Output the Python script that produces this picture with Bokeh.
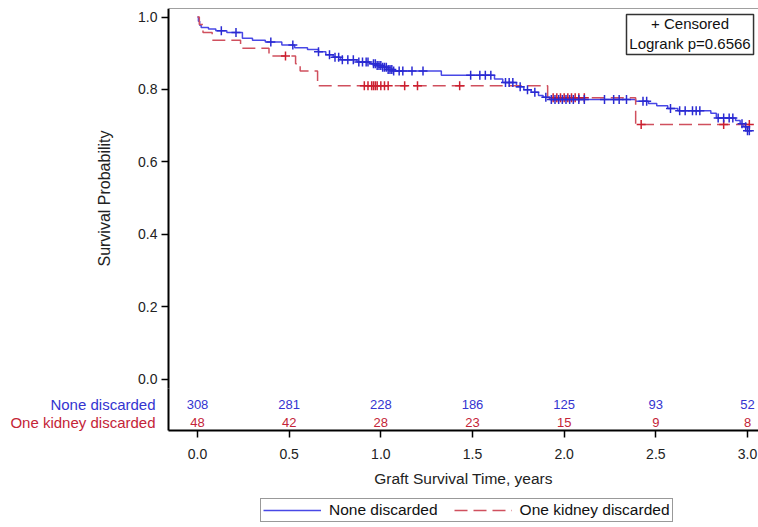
from bokeh.plotting import figure
from bokeh.models import Range1d, FixedTicker, Legend, LegendItem, Label, BoxAnnotation, LinearAxis
from bokeh.core.properties import value
from bokeh.embed import file_html
from bokeh.resources import INLINE
import numpy as np

# ---------------- data ----------------
# Kaplan-Meier step points: None discarded
none_t = [0.0, 0.005, 0.012, 0.02, 0.06, 0.10, 0.16, 0.245, 0.30, 0.37, 0.46, 0.53,
          0.60, 0.66, 0.70, 0.74, 0.78, 0.87, 0.94, 0.98, 1.01, 1.04, 1.065, 1.33,
          1.62, 1.665, 1.74, 1.78, 1.82, 1.86, 1.885, 1.92, 2.39, 2.46, 2.505, 2.565,
          2.62, 2.80, 2.83, 2.935, 2.96, 2.98, 3.0]
none_s = [1.0, 0.988, 0.977, 0.971, 0.967, 0.962, 0.957, 0.941, 0.936, 0.931, 0.923, 0.915,
          0.910, 0.904, 0.896, 0.889, 0.882, 0.876, 0.871, 0.866, 0.861, 0.855, 0.851, 0.839,
          0.829, 0.819, 0.807, 0.799, 0.792, 0.783, 0.778, 0.772, 0.767, 0.761, 0.755, 0.747,
          0.741, 0.734, 0.721, 0.714, 0.705, 0.697, 0.686]
none_cens = [0.13, 0.21, 0.40, 0.52, 0.66, 0.72, 0.75, 0.77, 0.79, 0.82, 0.85, 0.88, 0.90,
             0.92, 0.93, 0.96, 0.97, 0.98, 0.99, 1.00, 1.01, 1.02, 1.03, 1.04, 1.05, 1.06,
             1.07, 1.10, 1.12, 1.17, 1.23, 1.49, 1.54, 1.57, 1.60, 1.68, 1.70, 1.72, 1.76,
             1.80, 1.84, 1.90, 1.93, 1.95, 1.97, 1.99, 2.01, 2.03, 2.05, 2.08, 2.11, 2.22,
             2.27, 2.30, 2.34, 2.43, 2.45, 2.58, 2.63, 2.66, 2.70, 2.72, 2.74, 2.84, 2.87,
             2.90, 2.92, 2.97, 2.99, 3.00, 3.01]

# Kaplan-Meier step points: One kidney discarded
one_t = [0.0, 0.01, 0.03, 0.08, 0.235, 0.39, 0.535, 0.56, 0.655, 1.91, 2.39]
one_s = [1.0, 0.979, 0.957, 0.936, 0.914, 0.892, 0.871, 0.851, 0.810, 0.777, 0.703]
one_cens = [0.48, 0.91, 0.93, 0.95, 0.96, 0.97, 0.98, 1.00, 1.02, 1.04, 1.13, 1.20, 1.43,
            1.94, 1.96, 1.98, 2.00, 2.02, 2.04, 2.06, 2.08, 2.11, 2.42, 2.87, 3.01]

# Numbers at risk
risk_times = [0.0, 0.5, 1.0, 1.5, 2.0, 2.5, 3.0]
none_risk = [308, 281, 228, 186, 125, 93, 52]
one_risk = [48, 42, 28, 23, 15, 9, 8]

x_ticks = [0.0, 0.5, 1.0, 1.5, 2.0, 2.5, 3.0]
x_tick_labels = ["0.0", "0.5", "1.0", "1.5", "2.0", "2.5", "3.0"]
y_ticks = [0.0, 0.2, 0.4, 0.6, 0.8, 1.0]
y_tick_labels = ["0.0", "0.2", "0.4", "0.6", "0.8", "1.0"]

group_names = ["None discarded", "One kidney discarded"]
censor_text = "+ Censored"
logrank_text = "Logrank p=0.6566"

# ---------------- layout / style ----------------
FONT = "Liberation Sans"
BLUE_LINE = "#4848e6"
BLUE_MARK = "#2a2ad2"
BLUE_TEXT = "#3434d0"
RED_LINE = "#d0505e"
RED_MARK = "#cc1f2f"
RED_TEXT = "#c42438"

X_LO, X_HI = -1.0745, 3.060      # frame spans the whole canvas width
AX_X = -0.1582                   # data x where the y axis sits
Y_LO, Y_HI = -0.4102, 1.0235     # frame spans down to the canvas bottom
AX_Y = -0.1423                   # data y where the x axis sits
Y_SPLIT = -0.026                 # lower end of the titled part of the y axis
ROW1, ROW2 = -0.0704, -0.1202    # at-risk rows
NAME_X = -0.2291                 # right edge of row names


def step_lookup(ts, ss, q):
    idx = np.searchsorted(np.array(ts), np.array(q), side="right") - 1
    return [ss[i] for i in idx]


p = figure(width=758, height=527, output_backend="svg", toolbar_location=None,
           x_range=Range1d(X_LO, X_HI), y_range=Range1d(Y_LO, Y_HI),
           min_border_left=0, min_border_right=0, min_border_top=8, min_border_bottom=0)
p.grid.visible = False
p.outline_line_color = None
p.border_fill_color = "white"

p.yaxis.fixed_location = AX_X
p.yaxis.bounds = (Y_SPLIT, Y_HI)
p.xaxis.fixed_location = AX_Y
p.xaxis.bounds = (AX_X, X_HI)
p.xaxis.ticker = FixedTicker(ticks=x_ticks)
p.xaxis.major_label_overrides = {t: l for t, l in zip(x_ticks, x_tick_labels)}
p.yaxis.ticker = FixedTicker(ticks=y_ticks)
p.yaxis.major_label_overrides = {t: l for t, l in zip(y_ticks, y_tick_labels)}
p.xaxis.axis_label = "Graft Survival Time, years"
p.yaxis.axis_label = "Survival Probability"
for ax in (p.xaxis, p.yaxis):
    ax.axis_line_width = 2
    ax.axis_line_color = "black"
    ax.major_tick_line_width = 1.5
    ax.major_tick_line_color = "black"
    ax.major_tick_out = 7
    ax.major_tick_in = 0
    ax.minor_tick_out = 0
    ax.minor_tick_in = 0
    ax.major_label_text_font = FONT
    ax.major_label_text_font_size = "14px"
    ax.major_label_text_color = "#222222"
    ax.axis_label_text_font = FONT
    ax.axis_label_text_font_style = "normal"
    ax.axis_label_text_color = "#222222"
p.xaxis.axis_label_text_font_size = "15.5px"
p.yaxis.axis_label_text_font_size = "16px"
p.xaxis.major_label_standoff = 11
p.xaxis.axis_label_standoff = 8
p.yaxis.major_label_standoff = 4
p.yaxis.axis_label_standoff = 22

# lower stretch of the y axis line (through the at-risk rows), no ticks
low_axis = LinearAxis(fixed_location=AX_X, bounds=(AX_Y, Y_SPLIT),
                      ticker=FixedTicker(ticks=[-0.1]), major_label_overrides={-0.1: ""},
                      axis_line_color="black", axis_line_width=2,
                      major_tick_line_color=None, major_tick_out=0, major_tick_in=0,
                      minor_tick_out=0, minor_tick_in=0,
                      major_label_text_font_size="2px", major_label_text_alpha=0.0)
p.add_layout(low_axis, "left")

# thin top border of the plot area
top_axis = LinearAxis(ticker=FixedTicker(ticks=[1.0]), bounds=(AX_X, X_HI),
                      axis_line_color="#a0a0a0", axis_line_width=1,
                      major_tick_line_color=None, major_tick_out=0, major_tick_in=0,
                      minor_tick_out=0, minor_tick_in=0, major_label_standoff=0,
                      major_label_text_font_size="2px", major_label_text_alpha=0.0)
p.add_layout(top_axis, "above")

# curves
b_line = p.step(x=none_t + [none_cens[-1]], y=none_s + [none_s[-1]], mode="after",
                line_color=BLUE_LINE, line_width=1.5)
r_line = p.step(x=one_t + [one_cens[-1]], y=one_s + [one_s[-1]], mode="after",
                line_color=RED_LINE, line_width=1.5, line_dash="13 6")
p.scatter(x=one_cens, y=step_lookup(one_t, one_s, one_cens), marker="cross", size=9,
          line_color=RED_MARK, line_width=1.5)
p.scatter(x=none_cens, y=step_lookup(none_t, none_s, none_cens), marker="cross", size=9,
          line_color=BLUE_MARK, line_width=1.5)

# numbers at risk
p.text(x=risk_times, y=[ROW1] * len(risk_times), text=[str(v) for v in none_risk],
       text_align="center", text_baseline="middle", text_font=value(FONT),
       text_font_size="13px", text_color=BLUE_TEXT)
p.text(x=risk_times, y=[ROW2] * len(risk_times), text=[str(v) for v in one_risk],
       text_align="center", text_baseline="middle", text_font=value(FONT),
       text_font_size="13px", text_color=RED_TEXT)
p.text(x=[NAME_X], y=[ROW1], text=[group_names[0]], text_align="right",
       text_baseline="middle", text_font=value(FONT), text_font_size="15px",
       text_color=BLUE_TEXT)
p.text(x=[NAME_X], y=[ROW2], text=[group_names[1]], text_align="right",
       text_baseline="middle", text_font=value(FONT), text_font_size="15px",
       text_color=RED_TEXT)

# inset box
p.add_layout(BoxAnnotation(left=2.340, right=3.033, top=1.0069, bottom=0.8964,
                           fill_color="white", fill_alpha=1.0, line_color="#333333",
                           line_alpha=1.0, line_width=1.5))
p.add_layout(Label(x=2.6865, y=0.9820, text=censor_text, text_align="center",
                   text_baseline="middle", text_font=FONT, text_font_size="15px",
                   text_color="#111111"))
p.add_layout(Label(x=2.6865, y=0.9268, text=logrank_text, text_align="center",
                   text_baseline="middle", text_font=FONT, text_font_size="15px",
                   text_color="#111111"))

legend = Legend(items=[LegendItem(label=group_names[0], renderers=[b_line]),
                       LegendItem(label=group_names[1], renderers=[r_line])],
                location=(260, 5), orientation="horizontal",
                border_line_color="#333333", border_line_width=1.5,
                label_text_font=FONT, label_text_font_size="15.5px", label_text_color="#111111",
                glyph_width=58, glyph_height=16, label_height=16, label_standoff=8,
                spacing=16, padding=2, margin=0, background_fill_alpha=1.0)
p.add_layout(legend)

open("out.html", "w").write(file_html(p, INLINE))
